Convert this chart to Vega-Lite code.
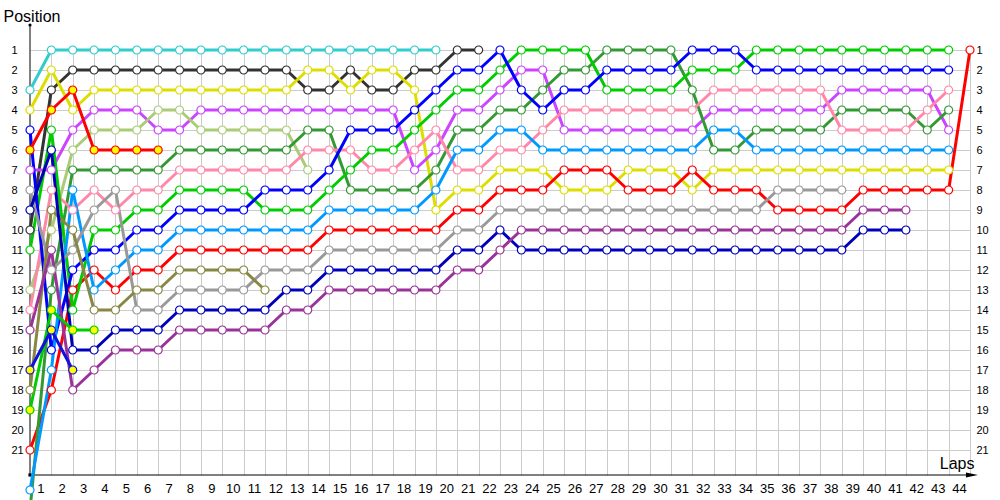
{
"$schema":"https://vega.github.io/schema/vega-lite/v6.json",
"width":940,"height":430,"autosize":"none",
"padding":{"left":30,"top":45,"right":30,"bottom":25},
"background":"white",
"config":{"view":{"stroke":null},"font":"Liberation Sans",
 "axisX":{"grid":true,"gridColor":"#cccccc","gridWidth":1,"ticks":false,"tickSize":0,"domain":false,
  "labelFont":"Liberation Sans","labelFontSize":13,"labelColor":"#000000","labelOffset":-11,"labelPadding":17,"labelBaseline":"alphabetic","labelAlign":"center","labelFlush":false,"labelOverlap":false,
  "titleFont":"Liberation Sans","titleFontSize":16,"titleFontWeight":"normal","titleColor":"#000000","titleAlign":"right","titleBaseline":"alphabetic","titleAnchor":"end","titleX":944,"titleY":-7}},
"datasets":{"laps":[
{"car":"cyan","lap":0,"pos":3},{"car":"cyan","lap":1,"pos":1},{"car":"cyan","lap":2,"pos":1},{"car":"cyan","lap":3,"pos":1},{"car":"cyan","lap":4,"pos":1},{"car":"cyan","lap":5,"pos":1},{"car":"cyan","lap":6,"pos":1},{"car":"cyan","lap":7,"pos":1},{"car":"cyan","lap":8,"pos":1},{"car":"cyan","lap":9,"pos":1},{"car":"cyan","lap":10,"pos":1},{"car":"cyan","lap":11,"pos":1},{"car":"cyan","lap":12,"pos":1},{"car":"cyan","lap":13,"pos":1},{"car":"cyan","lap":14,"pos":1},{"car":"cyan","lap":15,"pos":1},{"car":"cyan","lap":16,"pos":1},{"car":"cyan","lap":17,"pos":1},{"car":"cyan","lap":18,"pos":1},{"car":"cyan","lap":19,"pos":1},
{"car":"black","lap":0,"pos":10},{"car":"black","lap":1,"pos":3},{"car":"black","lap":2,"pos":2},{"car":"black","lap":3,"pos":2},{"car":"black","lap":4,"pos":2},{"car":"black","lap":5,"pos":2},{"car":"black","lap":6,"pos":2},{"car":"black","lap":7,"pos":2},{"car":"black","lap":8,"pos":2},{"car":"black","lap":9,"pos":2},{"car":"black","lap":10,"pos":2},{"car":"black","lap":11,"pos":2},{"car":"black","lap":12,"pos":2},{"car":"black","lap":13,"pos":3},{"car":"black","lap":14,"pos":3},{"car":"black","lap":15,"pos":2},{"car":"black","lap":16,"pos":3},{"car":"black","lap":17,"pos":3},{"car":"black","lap":18,"pos":2},{"car":"black","lap":19,"pos":2},{"car":"black","lap":20,"pos":1},{"car":"black","lap":21,"pos":1},
{"car":"yellow","lap":0,"pos":4},{"car":"yellow","lap":1,"pos":2},{"car":"yellow","lap":2,"pos":4},{"car":"yellow","lap":3,"pos":3},{"car":"yellow","lap":4,"pos":3},{"car":"yellow","lap":5,"pos":3},{"car":"yellow","lap":6,"pos":3},{"car":"yellow","lap":7,"pos":3},{"car":"yellow","lap":8,"pos":3},{"car":"yellow","lap":9,"pos":3},{"car":"yellow","lap":10,"pos":3},{"car":"yellow","lap":11,"pos":3},{"car":"yellow","lap":12,"pos":3},{"car":"yellow","lap":13,"pos":2},{"car":"yellow","lap":14,"pos":2},{"car":"yellow","lap":15,"pos":3},{"car":"yellow","lap":16,"pos":2},{"car":"yellow","lap":17,"pos":2},{"car":"yellow","lap":18,"pos":3},{"car":"yellow","lap":19,"pos":9},{"car":"yellow","lap":20,"pos":8},{"car":"yellow","lap":21,"pos":8},{"car":"yellow","lap":22,"pos":7},{"car":"yellow","lap":23,"pos":7},{"car":"yellow","lap":24,"pos":7},{"car":"yellow","lap":25,"pos":8},{"car":"yellow","lap":26,"pos":8},{"car":"yellow","lap":27,"pos":8},{"car":"yellow","lap":28,"pos":7},{"car":"yellow","lap":29,"pos":7},{"car":"yellow","lap":30,"pos":7},{"car":"yellow","lap":31,"pos":8},{"car":"yellow","lap":32,"pos":7},{"car":"yellow","lap":33,"pos":7},{"car":"yellow","lap":34,"pos":7},{"car":"yellow","lap":35,"pos":7},{"car":"yellow","lap":36,"pos":7},{"car":"yellow","lap":37,"pos":7},{"car":"yellow","lap":38,"pos":7},{"car":"yellow","lap":39,"pos":7},{"car":"yellow","lap":40,"pos":7},{"car":"yellow","lap":41,"pos":7},{"car":"yellow","lap":42,"pos":7},{"car":"yellow","lap":43,"pos":7},
{"car":"red","lap":0,"pos":21},{"car":"red","lap":1,"pos":18},{"car":"red","lap":2,"pos":13},{"car":"red","lap":3,"pos":12},{"car":"red","lap":4,"pos":13},{"car":"red","lap":5,"pos":12},{"car":"red","lap":6,"pos":12},{"car":"red","lap":7,"pos":11},{"car":"red","lap":8,"pos":11},{"car":"red","lap":9,"pos":11},{"car":"red","lap":10,"pos":11},{"car":"red","lap":11,"pos":11},{"car":"red","lap":12,"pos":11},{"car":"red","lap":13,"pos":11},{"car":"red","lap":14,"pos":10},{"car":"red","lap":15,"pos":10},{"car":"red","lap":16,"pos":10},{"car":"red","lap":17,"pos":10},{"car":"red","lap":18,"pos":10},{"car":"red","lap":19,"pos":10},{"car":"red","lap":20,"pos":9},{"car":"red","lap":21,"pos":9},{"car":"red","lap":22,"pos":8},{"car":"red","lap":23,"pos":8},{"car":"red","lap":24,"pos":8},{"car":"red","lap":25,"pos":7},{"car":"red","lap":26,"pos":7},{"car":"red","lap":27,"pos":7},{"car":"red","lap":28,"pos":8},{"car":"red","lap":29,"pos":8},{"car":"red","lap":30,"pos":8},{"car":"red","lap":31,"pos":7},{"car":"red","lap":32,"pos":8},{"car":"red","lap":33,"pos":8},{"car":"red","lap":34,"pos":8},{"car":"red","lap":35,"pos":9},{"car":"red","lap":36,"pos":9},{"car":"red","lap":37,"pos":9},{"car":"red","lap":38,"pos":9},{"car":"red","lap":39,"pos":8},{"car":"red","lap":40,"pos":8},{"car":"red","lap":41,"pos":8},{"car":"red","lap":42,"pos":8},{"car":"red","lap":43,"pos":8},{"car":"red","lap":44,"pos":1},
{"car":"violet","lap":0,"pos":7},{"car":"violet","lap":1,"pos":7},{"car":"violet","lap":2,"pos":5},{"car":"violet","lap":3,"pos":4},{"car":"violet","lap":4,"pos":4},{"car":"violet","lap":5,"pos":4},{"car":"violet","lap":6,"pos":5},{"car":"violet","lap":7,"pos":5},{"car":"violet","lap":8,"pos":4},{"car":"violet","lap":9,"pos":4},{"car":"violet","lap":10,"pos":4},{"car":"violet","lap":11,"pos":4},{"car":"violet","lap":12,"pos":4},{"car":"violet","lap":13,"pos":4},{"car":"violet","lap":14,"pos":4},{"car":"violet","lap":15,"pos":4},{"car":"violet","lap":16,"pos":4},{"car":"violet","lap":17,"pos":4},{"car":"violet","lap":18,"pos":7},{"car":"violet","lap":19,"pos":6},{"car":"violet","lap":20,"pos":4},{"car":"violet","lap":21,"pos":4},{"car":"violet","lap":22,"pos":3},{"car":"violet","lap":23,"pos":2},{"car":"violet","lap":24,"pos":2},{"car":"violet","lap":25,"pos":5},{"car":"violet","lap":26,"pos":5},{"car":"violet","lap":27,"pos":5},{"car":"violet","lap":28,"pos":5},{"car":"violet","lap":29,"pos":5},{"car":"violet","lap":30,"pos":5},{"car":"violet","lap":31,"pos":5},{"car":"violet","lap":32,"pos":4},{"car":"violet","lap":33,"pos":4},{"car":"violet","lap":34,"pos":4},{"car":"violet","lap":35,"pos":4},{"car":"violet","lap":36,"pos":4},{"car":"violet","lap":37,"pos":4},{"car":"violet","lap":38,"pos":3},{"car":"violet","lap":39,"pos":3},{"car":"violet","lap":40,"pos":3},{"car":"violet","lap":41,"pos":3},{"car":"violet","lap":42,"pos":3},{"car":"violet","lap":43,"pos":5},
{"car":"lightolive","lap":0,"pos":13},{"car":"lightolive","lap":1,"pos":10},{"car":"lightolive","lap":2,"pos":6},{"car":"lightolive","lap":3,"pos":5},{"car":"lightolive","lap":4,"pos":5},{"car":"lightolive","lap":5,"pos":5},{"car":"lightolive","lap":6,"pos":4},{"car":"lightolive","lap":7,"pos":4},{"car":"lightolive","lap":8,"pos":5},{"car":"lightolive","lap":9,"pos":5},{"car":"lightolive","lap":10,"pos":5},{"car":"lightolive","lap":11,"pos":5},{"car":"lightolive","lap":12,"pos":5},{"car":"lightolive","lap":13,"pos":7},
{"car":"darkgreen","lap":0,"pos":24},{"car":"darkgreen","lap":1,"pos":13},{"car":"darkgreen","lap":2,"pos":7},{"car":"darkgreen","lap":3,"pos":7},{"car":"darkgreen","lap":4,"pos":7},{"car":"darkgreen","lap":5,"pos":7},{"car":"darkgreen","lap":6,"pos":7},{"car":"darkgreen","lap":7,"pos":6},{"car":"darkgreen","lap":8,"pos":6},{"car":"darkgreen","lap":9,"pos":6},{"car":"darkgreen","lap":10,"pos":6},{"car":"darkgreen","lap":11,"pos":6},{"car":"darkgreen","lap":12,"pos":6},{"car":"darkgreen","lap":13,"pos":5},{"car":"darkgreen","lap":14,"pos":5},{"car":"darkgreen","lap":15,"pos":8},{"car":"darkgreen","lap":16,"pos":8},{"car":"darkgreen","lap":17,"pos":8},{"car":"darkgreen","lap":18,"pos":8},{"car":"darkgreen","lap":19,"pos":7},{"car":"darkgreen","lap":20,"pos":5},{"car":"darkgreen","lap":21,"pos":5},{"car":"darkgreen","lap":22,"pos":4},{"car":"darkgreen","lap":23,"pos":4},{"car":"darkgreen","lap":24,"pos":3},{"car":"darkgreen","lap":25,"pos":2},{"car":"darkgreen","lap":26,"pos":2},{"car":"darkgreen","lap":27,"pos":1},{"car":"darkgreen","lap":28,"pos":1},{"car":"darkgreen","lap":29,"pos":1},{"car":"darkgreen","lap":30,"pos":1},{"car":"darkgreen","lap":31,"pos":3},{"car":"darkgreen","lap":32,"pos":6},{"car":"darkgreen","lap":33,"pos":6},{"car":"darkgreen","lap":34,"pos":5},{"car":"darkgreen","lap":35,"pos":5},{"car":"darkgreen","lap":36,"pos":5},{"car":"darkgreen","lap":37,"pos":5},{"car":"darkgreen","lap":38,"pos":4},{"car":"darkgreen","lap":39,"pos":4},{"car":"darkgreen","lap":40,"pos":4},{"car":"darkgreen","lap":41,"pos":4},{"car":"darkgreen","lap":42,"pos":5},{"car":"darkgreen","lap":43,"pos":4},
{"car":"pink","lap":0,"pos":14},{"car":"pink","lap":1,"pos":8},{"car":"pink","lap":2,"pos":9},{"car":"pink","lap":3,"pos":8},{"car":"pink","lap":4,"pos":9},{"car":"pink","lap":5,"pos":8},{"car":"pink","lap":6,"pos":8},{"car":"pink","lap":7,"pos":7},{"car":"pink","lap":8,"pos":7},{"car":"pink","lap":9,"pos":7},{"car":"pink","lap":10,"pos":7},{"car":"pink","lap":11,"pos":7},{"car":"pink","lap":12,"pos":7},{"car":"pink","lap":13,"pos":6},{"car":"pink","lap":14,"pos":6},{"car":"pink","lap":15,"pos":6},{"car":"pink","lap":16,"pos":7},{"car":"pink","lap":17,"pos":7},{"car":"pink","lap":18,"pos":6},{"car":"pink","lap":19,"pos":5},{"car":"pink","lap":20,"pos":7},{"car":"pink","lap":21,"pos":7},{"car":"pink","lap":22,"pos":6},{"car":"pink","lap":23,"pos":6},{"car":"pink","lap":24,"pos":5},{"car":"pink","lap":25,"pos":4},{"car":"pink","lap":26,"pos":4},{"car":"pink","lap":27,"pos":4},{"car":"pink","lap":28,"pos":4},{"car":"pink","lap":29,"pos":4},{"car":"pink","lap":30,"pos":4},{"car":"pink","lap":31,"pos":4},{"car":"pink","lap":32,"pos":3},{"car":"pink","lap":33,"pos":3},{"car":"pink","lap":34,"pos":3},{"car":"pink","lap":35,"pos":3},{"car":"pink","lap":36,"pos":3},{"car":"pink","lap":37,"pos":3},{"car":"pink","lap":38,"pos":5},{"car":"pink","lap":39,"pos":5},{"car":"pink","lap":40,"pos":5},{"car":"pink","lap":41,"pos":5},{"car":"pink","lap":42,"pos":4},{"car":"pink","lap":43,"pos":3},
{"car":"green","lap":0,"pos":11},{"car":"green","lap":1,"pos":5},{"car":"green","lap":2,"pos":14},{"car":"green","lap":3,"pos":10},{"car":"green","lap":4,"pos":10},{"car":"green","lap":5,"pos":9},{"car":"green","lap":6,"pos":9},{"car":"green","lap":7,"pos":8},{"car":"green","lap":8,"pos":8},{"car":"green","lap":9,"pos":8},{"car":"green","lap":10,"pos":8},{"car":"green","lap":11,"pos":9},{"car":"green","lap":12,"pos":9},{"car":"green","lap":13,"pos":9},{"car":"green","lap":14,"pos":8},{"car":"green","lap":15,"pos":7},{"car":"green","lap":16,"pos":6},{"car":"green","lap":17,"pos":6},{"car":"green","lap":18,"pos":5},{"car":"green","lap":19,"pos":4},{"car":"green","lap":20,"pos":3},{"car":"green","lap":21,"pos":3},{"car":"green","lap":22,"pos":2},{"car":"green","lap":23,"pos":1},{"car":"green","lap":24,"pos":1},{"car":"green","lap":25,"pos":1},{"car":"green","lap":26,"pos":1},{"car":"green","lap":27,"pos":3},{"car":"green","lap":28,"pos":3},{"car":"green","lap":29,"pos":3},{"car":"green","lap":30,"pos":3},{"car":"green","lap":31,"pos":2},{"car":"green","lap":32,"pos":2},{"car":"green","lap":33,"pos":2},{"car":"green","lap":34,"pos":1},{"car":"green","lap":35,"pos":1},{"car":"green","lap":36,"pos":1},{"car":"green","lap":37,"pos":1},{"car":"green","lap":38,"pos":1},{"car":"green","lap":39,"pos":1},{"car":"green","lap":40,"pos":1},{"car":"green","lap":41,"pos":1},{"car":"green","lap":42,"pos":1},{"car":"green","lap":43,"pos":1},
{"car":"blue","lap":0,"pos":5},{"car":"blue","lap":1,"pos":16},{"car":"blue","lap":2,"pos":12},{"car":"blue","lap":3,"pos":11},{"car":"blue","lap":4,"pos":11},{"car":"blue","lap":5,"pos":10},{"car":"blue","lap":6,"pos":10},{"car":"blue","lap":7,"pos":9},{"car":"blue","lap":8,"pos":9},{"car":"blue","lap":9,"pos":9},{"car":"blue","lap":10,"pos":9},{"car":"blue","lap":11,"pos":8},{"car":"blue","lap":12,"pos":8},{"car":"blue","lap":13,"pos":8},{"car":"blue","lap":14,"pos":7},{"car":"blue","lap":15,"pos":5},{"car":"blue","lap":16,"pos":5},{"car":"blue","lap":17,"pos":5},{"car":"blue","lap":18,"pos":4},{"car":"blue","lap":19,"pos":3},{"car":"blue","lap":20,"pos":2},{"car":"blue","lap":21,"pos":2},{"car":"blue","lap":22,"pos":1},{"car":"blue","lap":23,"pos":3},{"car":"blue","lap":24,"pos":4},{"car":"blue","lap":25,"pos":3},{"car":"blue","lap":26,"pos":3},{"car":"blue","lap":27,"pos":2},{"car":"blue","lap":28,"pos":2},{"car":"blue","lap":29,"pos":2},{"car":"blue","lap":30,"pos":2},{"car":"blue","lap":31,"pos":1},{"car":"blue","lap":32,"pos":1},{"car":"blue","lap":33,"pos":1},{"car":"blue","lap":34,"pos":2},{"car":"blue","lap":35,"pos":2},{"car":"blue","lap":36,"pos":2},{"car":"blue","lap":37,"pos":2},{"car":"blue","lap":38,"pos":2},{"car":"blue","lap":39,"pos":2},{"car":"blue","lap":40,"pos":2},{"car":"blue","lap":41,"pos":2},{"car":"blue","lap":42,"pos":2},{"car":"blue","lap":43,"pos":2},
{"car":"lightblue","lap":0,"pos":23},{"car":"lightblue","lap":1,"pos":17},{"car":"lightblue","lap":2,"pos":8},{"car":"lightblue","lap":3,"pos":13},{"car":"lightblue","lap":4,"pos":12},{"car":"lightblue","lap":5,"pos":11},{"car":"lightblue","lap":6,"pos":11},{"car":"lightblue","lap":7,"pos":10},{"car":"lightblue","lap":8,"pos":10},{"car":"lightblue","lap":9,"pos":10},{"car":"lightblue","lap":10,"pos":10},{"car":"lightblue","lap":11,"pos":10},{"car":"lightblue","lap":12,"pos":10},{"car":"lightblue","lap":13,"pos":10},{"car":"lightblue","lap":14,"pos":9},{"car":"lightblue","lap":15,"pos":9},{"car":"lightblue","lap":16,"pos":9},{"car":"lightblue","lap":17,"pos":9},{"car":"lightblue","lap":18,"pos":9},{"car":"lightblue","lap":19,"pos":8},{"car":"lightblue","lap":20,"pos":6},{"car":"lightblue","lap":21,"pos":6},{"car":"lightblue","lap":22,"pos":5},{"car":"lightblue","lap":23,"pos":5},{"car":"lightblue","lap":24,"pos":6},{"car":"lightblue","lap":25,"pos":6},{"car":"lightblue","lap":26,"pos":6},{"car":"lightblue","lap":27,"pos":6},{"car":"lightblue","lap":28,"pos":6},{"car":"lightblue","lap":29,"pos":6},{"car":"lightblue","lap":30,"pos":6},{"car":"lightblue","lap":31,"pos":6},{"car":"lightblue","lap":32,"pos":5},{"car":"lightblue","lap":33,"pos":5},{"car":"lightblue","lap":34,"pos":6},{"car":"lightblue","lap":35,"pos":6},{"car":"lightblue","lap":36,"pos":6},{"car":"lightblue","lap":37,"pos":6},{"car":"lightblue","lap":38,"pos":6},{"car":"lightblue","lap":39,"pos":6},{"car":"lightblue","lap":40,"pos":6},{"car":"lightblue","lap":41,"pos":6},{"car":"lightblue","lap":42,"pos":6},{"car":"lightblue","lap":43,"pos":6},
{"car":"gray","lap":0,"pos":8},{"car":"gray","lap":1,"pos":12},{"car":"gray","lap":2,"pos":11},{"car":"gray","lap":3,"pos":9},{"car":"gray","lap":4,"pos":8},{"car":"gray","lap":5,"pos":14},{"car":"gray","lap":6,"pos":14},{"car":"gray","lap":7,"pos":13},{"car":"gray","lap":8,"pos":13},{"car":"gray","lap":9,"pos":13},{"car":"gray","lap":10,"pos":13},{"car":"gray","lap":11,"pos":12},{"car":"gray","lap":12,"pos":12},{"car":"gray","lap":13,"pos":12},{"car":"gray","lap":14,"pos":11},{"car":"gray","lap":15,"pos":11},{"car":"gray","lap":16,"pos":11},{"car":"gray","lap":17,"pos":11},{"car":"gray","lap":18,"pos":11},{"car":"gray","lap":19,"pos":11},{"car":"gray","lap":20,"pos":10},{"car":"gray","lap":21,"pos":10},{"car":"gray","lap":22,"pos":9},{"car":"gray","lap":23,"pos":9},{"car":"gray","lap":24,"pos":9},{"car":"gray","lap":25,"pos":9},{"car":"gray","lap":26,"pos":9},{"car":"gray","lap":27,"pos":9},{"car":"gray","lap":28,"pos":9},{"car":"gray","lap":29,"pos":9},{"car":"gray","lap":30,"pos":9},{"car":"gray","lap":31,"pos":9},{"car":"gray","lap":32,"pos":9},{"car":"gray","lap":33,"pos":9},{"car":"gray","lap":34,"pos":9},{"car":"gray","lap":35,"pos":8},{"car":"gray","lap":36,"pos":8},{"car":"gray","lap":37,"pos":8},{"car":"gray","lap":38,"pos":8},
{"car":"khaki","lap":0,"pos":18},{"car":"khaki","lap":1,"pos":9},{"car":"khaki","lap":2,"pos":10},{"car":"khaki","lap":3,"pos":14},{"car":"khaki","lap":4,"pos":14},{"car":"khaki","lap":5,"pos":13},{"car":"khaki","lap":6,"pos":13},{"car":"khaki","lap":7,"pos":12},{"car":"khaki","lap":8,"pos":12},{"car":"khaki","lap":9,"pos":12},{"car":"khaki","lap":10,"pos":12},{"car":"khaki","lap":11,"pos":13},
{"car":"darkblue","lap":0,"pos":9},{"car":"darkblue","lap":1,"pos":6},{"car":"darkblue","lap":2,"pos":16},{"car":"darkblue","lap":3,"pos":16},{"car":"darkblue","lap":4,"pos":15},{"car":"darkblue","lap":5,"pos":15},{"car":"darkblue","lap":6,"pos":15},{"car":"darkblue","lap":7,"pos":14},{"car":"darkblue","lap":8,"pos":14},{"car":"darkblue","lap":9,"pos":14},{"car":"darkblue","lap":10,"pos":14},{"car":"darkblue","lap":11,"pos":14},{"car":"darkblue","lap":12,"pos":13},{"car":"darkblue","lap":13,"pos":13},{"car":"darkblue","lap":14,"pos":12},{"car":"darkblue","lap":15,"pos":12},{"car":"darkblue","lap":16,"pos":12},{"car":"darkblue","lap":17,"pos":12},{"car":"darkblue","lap":18,"pos":12},{"car":"darkblue","lap":19,"pos":12},{"car":"darkblue","lap":20,"pos":11},{"car":"darkblue","lap":21,"pos":11},{"car":"darkblue","lap":22,"pos":10},{"car":"darkblue","lap":23,"pos":11},{"car":"darkblue","lap":24,"pos":11},{"car":"darkblue","lap":25,"pos":11},{"car":"darkblue","lap":26,"pos":11},{"car":"darkblue","lap":27,"pos":11},{"car":"darkblue","lap":28,"pos":11},{"car":"darkblue","lap":29,"pos":11},{"car":"darkblue","lap":30,"pos":11},{"car":"darkblue","lap":31,"pos":11},{"car":"darkblue","lap":32,"pos":11},{"car":"darkblue","lap":33,"pos":11},{"car":"darkblue","lap":34,"pos":11},{"car":"darkblue","lap":35,"pos":11},{"car":"darkblue","lap":36,"pos":11},{"car":"darkblue","lap":37,"pos":11},{"car":"darkblue","lap":38,"pos":11},{"car":"darkblue","lap":39,"pos":10},{"car":"darkblue","lap":40,"pos":10},{"car":"darkblue","lap":41,"pos":10},
{"car":"magenta","lap":0,"pos":15},{"car":"magenta","lap":1,"pos":11},{"car":"magenta","lap":2,"pos":18},{"car":"magenta","lap":3,"pos":17},{"car":"magenta","lap":4,"pos":16},{"car":"magenta","lap":5,"pos":16},{"car":"magenta","lap":6,"pos":16},{"car":"magenta","lap":7,"pos":15},{"car":"magenta","lap":8,"pos":15},{"car":"magenta","lap":9,"pos":15},{"car":"magenta","lap":10,"pos":15},{"car":"magenta","lap":11,"pos":15},{"car":"magenta","lap":12,"pos":14},{"car":"magenta","lap":13,"pos":14},{"car":"magenta","lap":14,"pos":13},{"car":"magenta","lap":15,"pos":13},{"car":"magenta","lap":16,"pos":13},{"car":"magenta","lap":17,"pos":13},{"car":"magenta","lap":18,"pos":13},{"car":"magenta","lap":19,"pos":13},{"car":"magenta","lap":20,"pos":12},{"car":"magenta","lap":21,"pos":12},{"car":"magenta","lap":22,"pos":11},{"car":"magenta","lap":23,"pos":10},{"car":"magenta","lap":24,"pos":10},{"car":"magenta","lap":25,"pos":10},{"car":"magenta","lap":26,"pos":10},{"car":"magenta","lap":27,"pos":10},{"car":"magenta","lap":28,"pos":10},{"car":"magenta","lap":29,"pos":10},{"car":"magenta","lap":30,"pos":10},{"car":"magenta","lap":31,"pos":10},{"car":"magenta","lap":32,"pos":10},{"car":"magenta","lap":33,"pos":10},{"car":"magenta","lap":34,"pos":10},{"car":"magenta","lap":35,"pos":10},{"car":"magenta","lap":36,"pos":10},{"car":"magenta","lap":37,"pos":10},{"car":"magenta","lap":38,"pos":10},{"car":"magenta","lap":39,"pos":9},{"car":"magenta","lap":40,"pos":9},{"car":"magenta","lap":41,"pos":9},
{"car":"redY","lap":0,"pos":6},{"car":"redY","lap":1,"pos":4},{"car":"redY","lap":2,"pos":3},{"car":"redY","lap":3,"pos":6},{"car":"redY","lap":4,"pos":6},{"car":"redY","lap":5,"pos":6},{"car":"redY","lap":6,"pos":6},
{"car":"greenY","lap":0,"pos":19},{"car":"greenY","lap":1,"pos":14},{"car":"greenY","lap":2,"pos":15},{"car":"greenY","lap":3,"pos":15},
{"car":"blueY","lap":0,"pos":17},{"car":"blueY","lap":1,"pos":15},{"car":"blueY","lap":2,"pos":17}
]},
"data":{"name":"laps"},
"resolve":{"axis":{"y":"independent"}},
"layer":[
{"data":{"values":[{}]},"mark":{"type":"rule","color":"#000000","strokeWidth":1},
 "encoding":{"x":{"datum":0,"type":"quantitative","scale":{"domain":[0,44],"nice":false,"zero":false},"axis":{"values":[1,2,3,4,5,6,7,8,9,10,11,12,13,14,15,16,17,18,19,20,21,22,23,24,25,26,27,28,29,30,31,32,33,34,35,36,37,38,39,40,41,42,43,44]}},
  "y":{"datum":-0.25,"type":"quantitative","scale":{"domain":[0.75,22.25],"reverse":true,"nice":false,"zero":false},"axis":null},
  "y2":{"datum":22.25}}},
{"data":{"values":[{}]},"mark":{"type":"rule","color":"#000000","strokeWidth":1},
 "encoding":{"x":{"datum":0,"type":"quantitative","scale":{"domain":[0,44],"nice":false,"zero":false},"axis":{"values":[1,2,3,4,5,6,7,8,9,10,11,12,13,14,15,16,17,18,19,20,21,22,23,24,25,26,27,28,29,30,31,32,33,34,35,36,37,38,39,40,41,42,43,44]}},
  "x2":{"datum":44.05},
  "y":{"datum":22.25,"type":"quantitative","scale":{"domain":[0.75,22.25],"reverse":true,"nice":false,"zero":false},"axis":null}}},
{"data":{"values":[{}]},"mark":{"type":"point","filled":true,"color":"#000000","opacity":1,"shape":"M-2,-0.8L2,0L-2,0.8Z","size":36,"strokeWidth":0},
 "encoding":{"x":{"datum":44.09,"type":"quantitative","scale":{"domain":[0,44],"nice":false,"zero":false},"axis":{"values":[1,2,3,4,5,6,7,8,9,10,11,12,13,14,15,16,17,18,19,20,21,22,23,24,25,26,27,28,29,30,31,32,33,34,35,36,37,38,39,40,41,42,43,44]}},
  "y":{"datum":22.25,"type":"quantitative","scale":{"domain":[0.75,22.25],"reverse":true,"nice":false,"zero":false},"axis":null}}},
{"data":{"values":[{}]},"mark":{"type":"point","filled":true,"color":"#000000","opacity":1,"shape":"circle","size":10,"strokeWidth":0},
 "encoding":{"x":{"datum":0,"type":"quantitative","scale":{"domain":[0,44],"nice":false,"zero":false},"axis":{"values":[1,2,3,4,5,6,7,8,9,10,11,12,13,14,15,16,17,18,19,20,21,22,23,24,25,26,27,28,29,30,31,32,33,34,35,36,37,38,39,40,41,42,43,44]}},
  "y":{"datum":-0.25,"type":"quantitative","scale":{"domain":[0.75,22.25],"reverse":true,"nice":false,"zero":false},"axis":null}}},
{"data":{"values":[{}]},"mark":{"type":"point","filled":true,"color":"#000000","opacity":1,"shape":"square","size":10,"strokeWidth":0},
 "encoding":{"x":{"datum":0,"type":"quantitative","scale":{"domain":[0,44],"nice":false,"zero":false},"axis":{"values":[1,2,3,4,5,6,7,8,9,10,11,12,13,14,15,16,17,18,19,20,21,22,23,24,25,26,27,28,29,30,31,32,33,34,35,36,37,38,39,40,41,42,43,44]}},
  "y":{"datum":22.25,"type":"quantitative","scale":{"domain":[0.75,22.25],"reverse":true,"nice":false,"zero":false},"axis":null}}},
{"mark":{"type":"line","strokeWidth":3,"strokeJoin":"round","strokeCap":"round"},
 "encoding":{
  "x":{"field":"lap","type":"quantitative","scale":{"domain":[0,44],"nice":false,"zero":false},
   "axis":{"values":[1,2,3,4,5,6,7,8,9,10,11,12,13,14,15,16,17,18,19,20,21,22,23,24,25,26,27,28,29,30,31,32,33,34,35,36,37,38,39,40,41,42,43,44],"title":"Laps"}},
  "y":{"field":"pos","type":"quantitative","scale":{"domain":[0.75,22.25],"reverse":true,"nice":false,"zero":false},
   "axis":{"values":[1,2,3,4,5,6,7,8,9,10,11,12,13,14,15,16,17,18,19,20,21],
    "grid":true,"gridColor":"#cccccc","gridWidth":1,"ticks":false,"tickSize":0,"domain":false,
    "labelFont":"Liberation Sans","labelFontSize":11,"labelColor":"#000000","labelAlign":"left","labelPadding":19,"labelBaseline":"middle","labelFlush":false,"labelOverlap":false,
    "title":"Position","titleFont":"Liberation Sans","titleFontSize":16,"titleFontWeight":"normal","titleColor":"#000000","titleAngle":0,"titleAlign":"left","titleBaseline":"alphabetic","titleX":-27,"titleY":-24}},
  "stroke":{"field":"car","type":"nominal","legend":null,
   "scale":{"domain":["cyan","black","yellow","red","violet","lightolive","darkgreen","pink","green","blue","lightblue","gray","khaki","darkblue","magenta","redY","greenY","blueY"],
    "range":["#33CCCC","#333333","#DDDD00","#FF0000","#CC44FF","#AACC77","#339933","#FF88AA","#00CC00","#0000FF","#0099FF","#999999","#888844","#0000BB","#993399","#FF0000","#00CC00","#1111DD"]}},
  "order":{"field":"lap","type":"quantitative"}}},
{"mark":{"type":"point","filled":true,"shape":"circle","size":64,"strokeWidth":1.2,"opacity":1},
 "encoding":{
  "x":{"field":"lap","type":"quantitative","scale":{"domain":[0,44],"nice":false,"zero":false},"axis":{"values":[1,2,3,4,5,6,7,8,9,10,11,12,13,14,15,16,17,18,19,20,21,22,23,24,25,26,27,28,29,30,31,32,33,34,35,36,37,38,39,40,41,42,43,44]}},
  "y":{"field":"pos","type":"quantitative","scale":{"domain":[0.75,22.25],"reverse":true,"nice":false,"zero":false},
   "axis":{"orient":"right","values":[1,2,3,4,5,6,7,8,9,10,11,12,13,14,15,16,17,18,19,20,21],
    "grid":false,"ticks":false,"tickSize":0,"domain":false,
    "labelFont":"Liberation Sans","labelFontSize":11,"labelColor":"#000000","labelAlign":"left","labelPadding":6,"labelBaseline":"middle","labelFlush":false,"labelOverlap":false,"title":null}},
  "stroke":{"field":"car","type":"nominal","legend":null},
  "fill":{"field":"car","type":"nominal","legend":null,
   "scale":{"domain":["cyan","black","yellow","red","violet","lightolive","darkgreen","pink","green","blue","lightblue","gray","khaki","darkblue","magenta","redY","greenY","blueY"],
    "range":["#FFFFFF","#FFFFFF","#FFFFFF","#FFFFFF","#FFFFFF","#FFFFFF","#FFFFFF","#FFFFFF","#FFFFFF","#FFFFFF","#FFFFFF","#FFFFFF","#FFFFFF","#FFFFFF","#FFFFFF","#FFFF00","#FFFF00","#FFFF00"]}}}}
]
}
